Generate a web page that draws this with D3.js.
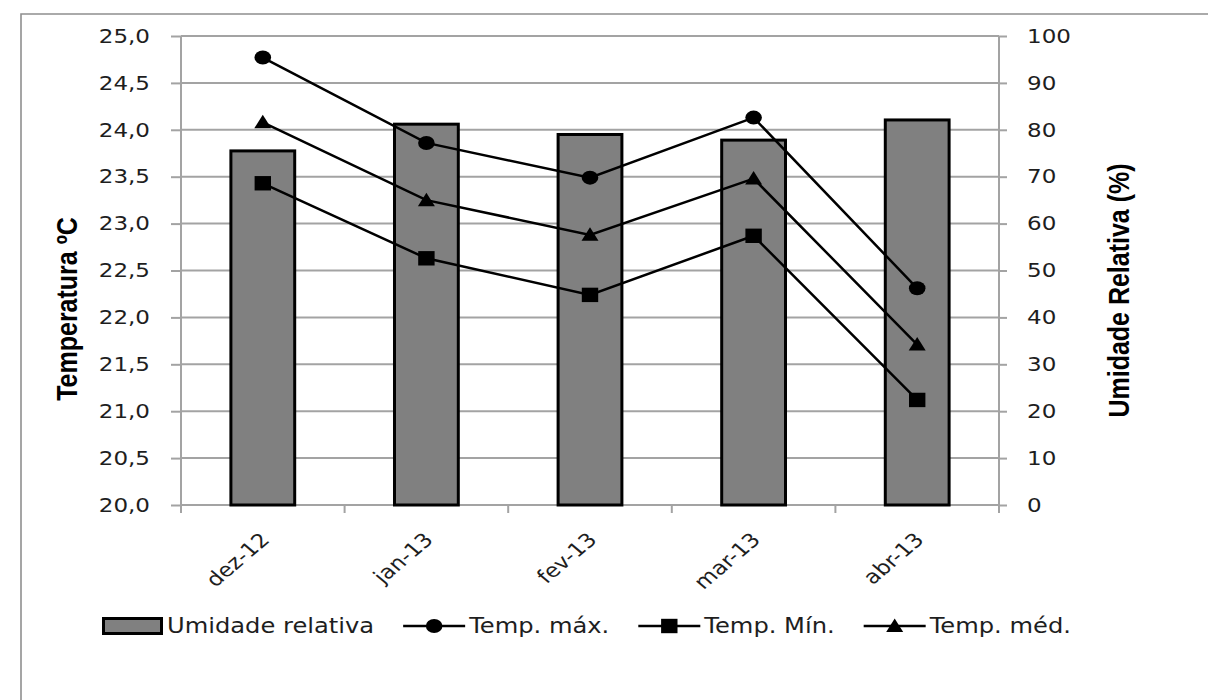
<!DOCTYPE html>
<html><head><meta charset="utf-8">
<script src="https://cdn.jsdelivr.net/npm/d3@7"></script>
<style>body{margin:0;background:#fff} svg{display:block}</style>
</head><body>
<svg id="chart" width="1208" height="700"></svg>
<script>
const categories = ["dez-12", "jan-13", "fev-13", "mar-13", "abr-13"];
const humidity = [75.5, 81.2, 79.0, 77.8, 82.1];
const tempMax = [24.77, 23.86, 23.49, 24.13, 22.31];
const tempMin = [23.43, 22.63, 22.24, 22.87, 21.12];
const tempMed = [24.08, 23.25, 22.88, 23.48, 21.71];
const tempTicks = [20, 20.5, 21, 21.5, 22, 22.5, 23, 23.5, 24, 24.5, 25];
const humTicks = [0, 10, 20, 30, 40, 50, 60, 70, 80, 90, 100];
const seriesNames = ["Umidade relativa", "Temp. máx.", "Temp. Mín.", "Temp. méd."];
const leftTitle = "Temperatura ºC";
const rightTitle = "Umidade Relativa (%)";

const SX = 1.18; // horizontal text stretch seen in the reference
const svg = d3.select("#chart");
const L = 181, R = 999, T = 36, B = 505;
const gridCol = "#a3a3a3";
const txtCol = "#1e1e1e";
const tickFont = "'DejaVu Sans', Verdana, sans-serif";

const x = d3.scaleBand().domain(categories).range([L, R]).padding(0);
const yT = d3.scaleLinear().domain([20, 25]).range([B, T]);
const yH = d3.scaleLinear().domain([0, 100]).range([B, T]);

// outer border
svg.append("path").attr("d", "M21,700V14H1208").attr("fill", "none")
  .attr("stroke", "#8f8f8f").attr("stroke-width", 1.6);

// gridlines
svg.append("g").selectAll("line").data(tempTicks).join("line")
  .attr("x1", L).attr("x2", R).attr("y1", d => yT(d)).attr("y2", d => yT(d))
  .attr("stroke", gridCol).attr("stroke-width", 2);

function stretchTexts(g) {
  g.selectAll("text").each(function () {
    const t = d3.select(this);
    const xx = +t.attr("x") || 0;
    t.attr("x", 0).attr("transform", `translate(${xx},0) scale(${SX},1)`);
  });
}

// left axis
const gL = svg.append("g").attr("transform", `translate(${L},0)`)
  .call(d3.axisLeft(yT).tickValues(tempTicks).tickSize(10).tickPadding(21)
    .tickFormat(d => d3.format(".1f")(d).replace(".", ",")));
gL.select(".domain").remove();
gL.selectAll("line").attr("stroke", gridCol).attr("stroke-width", 2);
gL.selectAll("text").attr("font-family", tickFont).attr("font-size", 19.5).attr("fill", txtCol);
stretchTexts(gL);

// right axis
const gR = svg.append("g").attr("transform", `translate(${R},0)`)
  .call(d3.axisRight(yH).tickValues(humTicks).tickSize(8).tickPadding(20).tickFormat(d3.format("d")));
gR.select(".domain").remove();
gR.selectAll("line").attr("stroke", gridCol).attr("stroke-width", 2);
gR.selectAll("text").attr("font-family", tickFont).attr("font-size", 19.5).attr("fill", txtCol);
stretchTexts(gR);

// axis lines
svg.append("line").attr("x1", L).attr("x2", L).attr("y1", T).attr("y2", B + 8)
  .attr("stroke", gridCol).attr("stroke-width", 2);
svg.append("line").attr("x1", R).attr("x2", R).attr("y1", T).attr("y2", B + 8)
  .attr("stroke", gridCol).attr("stroke-width", 2);
// x category ticks
svg.append("g").selectAll("line").data(categories.slice(1)).join("line")
  .attr("x1", d => x(d)).attr("x2", d => x(d)).attr("y1", B).attr("y2", B + 8)
  .attr("stroke", gridCol).attr("stroke-width", 2);

// x labels
svg.append("g").selectAll("text").data(categories).join("text")
  .attr("transform", d => `translate(${x(d) + x.bandwidth() / 2 + 8},541) scale(${SX},1) rotate(-45)`)
  .attr("text-anchor", "end").attr("font-family", tickFont).attr("font-size", 19.5)
  .attr("fill", txtCol).text(d => d);

// bars
const barW = x.bandwidth() * 0.39;
svg.append("g").selectAll("rect").data(categories).join("rect")
  .attr("x", d => x(d) + x.bandwidth() / 2 - barW / 2)
  .attr("width", barW)
  .attr("y", (d, i) => yH(humidity[i]))
  .attr("height", (d, i) => B - yH(humidity[i]))
  .attr("fill", "#808080").attr("stroke", "#000").attr("stroke-width", 3);

// lines
const cx = d => x(d) + x.bandwidth() / 2;
const lineGen = vals => d3.line().x((d) => cx(d)).y((d, i) => yT(vals[i]))(categories);
[tempMax, tempMin, tempMed].forEach(vals => {
  svg.append("path").attr("d", lineGen(vals)).attr("fill", "none")
    .attr("stroke", "#000").attr("stroke-width", 2.5);
});

function marker(g, type, px, py) {
  if (type === "circle") {
    g.append("ellipse").attr("cx", px).attr("cy", py).attr("rx", 8.3).attr("ry", 7).attr("fill", "#000");
  } else if (type === "square") {
    g.append("rect").attr("x", px - 8.2).attr("y", py - 7.2).attr("width", 16.4).attr("height", 14.4).attr("fill", "#000");
  } else {
    g.append("path").attr("d", `M${px},${py - 7.5}L${px + 8.5},${py + 6}L${px - 8.5},${py + 6}Z`).attr("fill", "#000");
  }
}
const mg = svg.append("g");
categories.forEach((c, i) => {
  marker(mg, "circle", cx(c), yT(tempMax[i]));
  marker(mg, "square", cx(c), yT(tempMin[i]));
  marker(mg, "triangle", cx(c), yT(tempMed[i]));
});

// axis titles
svg.append("text").attr("transform", `translate(77,309) scale(${SX},1) rotate(-90)`)
  .attr("text-anchor", "middle").attr("font-family", "'Liberation Sans', Arial, sans-serif")
  .attr("font-weight", "bold").attr("font-size", 25).attr("fill", "#000").text(leftTitle);
svg.append("text").attr("transform", `translate(1129,290.5) scale(${SX},1) rotate(-90)`)
  .attr("text-anchor", "middle").attr("font-family", "'Liberation Sans', Arial, sans-serif")
  .attr("font-weight", "bold").attr("font-size", 25).attr("fill", "#000").text(rightTitle);

// legend
const lg = svg.append("g");
const legY = 626, legBase = 633;
const types = ["bar", "circle", "square", "triangle"];
let lx = 102;
types.forEach((tp, i) => {
  if (tp === "bar") {
    lg.append("rect").attr("x", lx + 1.5).attr("y", legY - 7.5).attr("width", 58).attr("height", 15)
      .attr("fill", "#808080").attr("stroke", "#000").attr("stroke-width", 3);
    lx += 61;
  } else {
    lg.append("line").attr("x1", lx).attr("x2", lx + 62).attr("y1", legY).attr("y2", legY)
      .attr("stroke", "#000").attr("stroke-width", 2.5);
    marker(lg, tp, lx + 31, legY);
    lx += 62;
  }
  lx += 4;
  const t = lg.append("text").attr("transform", `translate(${lx},${legBase}) scale(${SX},1)`)
    .attr("font-family", tickFont).attr("font-size", 20.5).attr("fill", txtCol).text(seriesNames[i]);
  lx += t.node().getComputedTextLength() * SX + 29;
});
</script>
</body></html>
